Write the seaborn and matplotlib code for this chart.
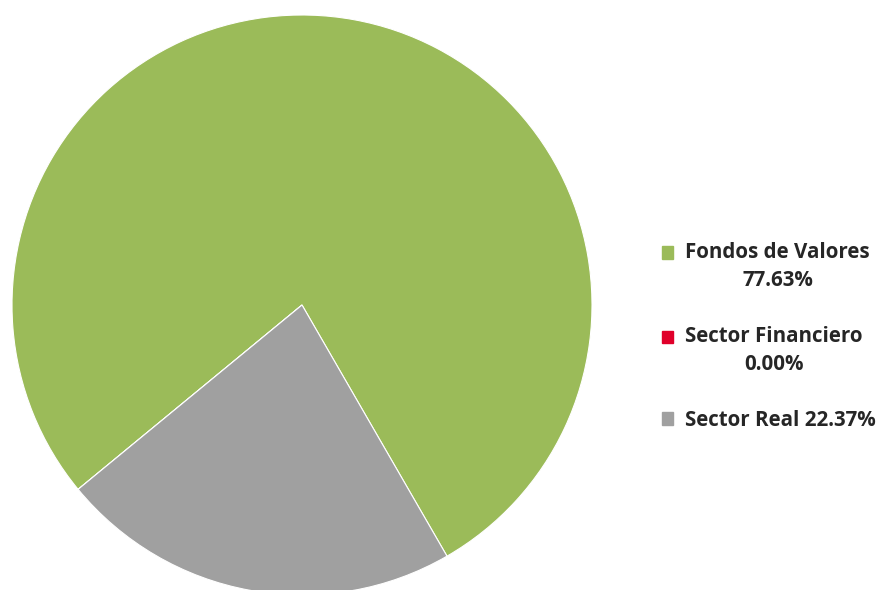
import matplotlib
matplotlib.use('Agg')
import matplotlib.pyplot as plt
import matplotlib.patches as mpatches
from matplotlib.legend_handler import HandlerPatch
import seaborn as sns

sns.set_style('white')
plt.rcParams['font.family'] = ['Open Sans', 'DejaVu Sans']

sectors = ['Fondos de Valores', 'Sector Financiero', 'Sector Real']
shares = [77.63, 0.00, 22.37]
colors = ['#9BBB59', '#E0002A', '#A0A0A0']
legend_labels = ['Fondos de Valores\n77.63%', 'Sector Financiero\n0.00%', 'Sector Real 22.37%']

fig = plt.figure(figsize=(8.76, 5.90), dpi=100)
# pie centre ~ (302, 305) px, radius ~ 290 px
ax = fig.add_axes([12 / 876, -5 / 590, 580 / 876, 580 / 590])
ax.pie(shares, colors=colors, startangle=-60, counterclock=True, radius=1,
       wedgeprops={'edgecolor': 'white', 'linewidth': 0.8})
ax.set_xlim(-1, 1)
ax.set_ylim(-1, 1)
ax.set_aspect('equal')
ax.axis('off')


def top_square(legend, orig_handle, xdescent, ydescent, width, height, fontsize):
    # put the square next to the first line of a two-line label
    return mpatches.Rectangle((-xdescent, -ydescent + 0.7 * fontsize), width, height)


handles = [mpatches.Patch(color=c) for c in colors]
hmap = {h: HandlerPatch(patch_func=top_square) for h, lab in zip(handles, legend_labels) if '\n' in lab}
leg = fig.legend(handles, legend_labels, loc='center right', handler_map=hmap,
                 bbox_to_anchor=(1.021, 0.43), frameon=False,
                 prop={'weight': 'bold', 'size': 14.8}, handlelength=0.55,
                 handleheight=0.55, handletextpad=0.6, labelspacing=1.7)
for t in leg.get_texts():
    t.set_multialignment('center')
    t.set_linespacing(1.45)

fig.savefig('out.png', dpi=100)
